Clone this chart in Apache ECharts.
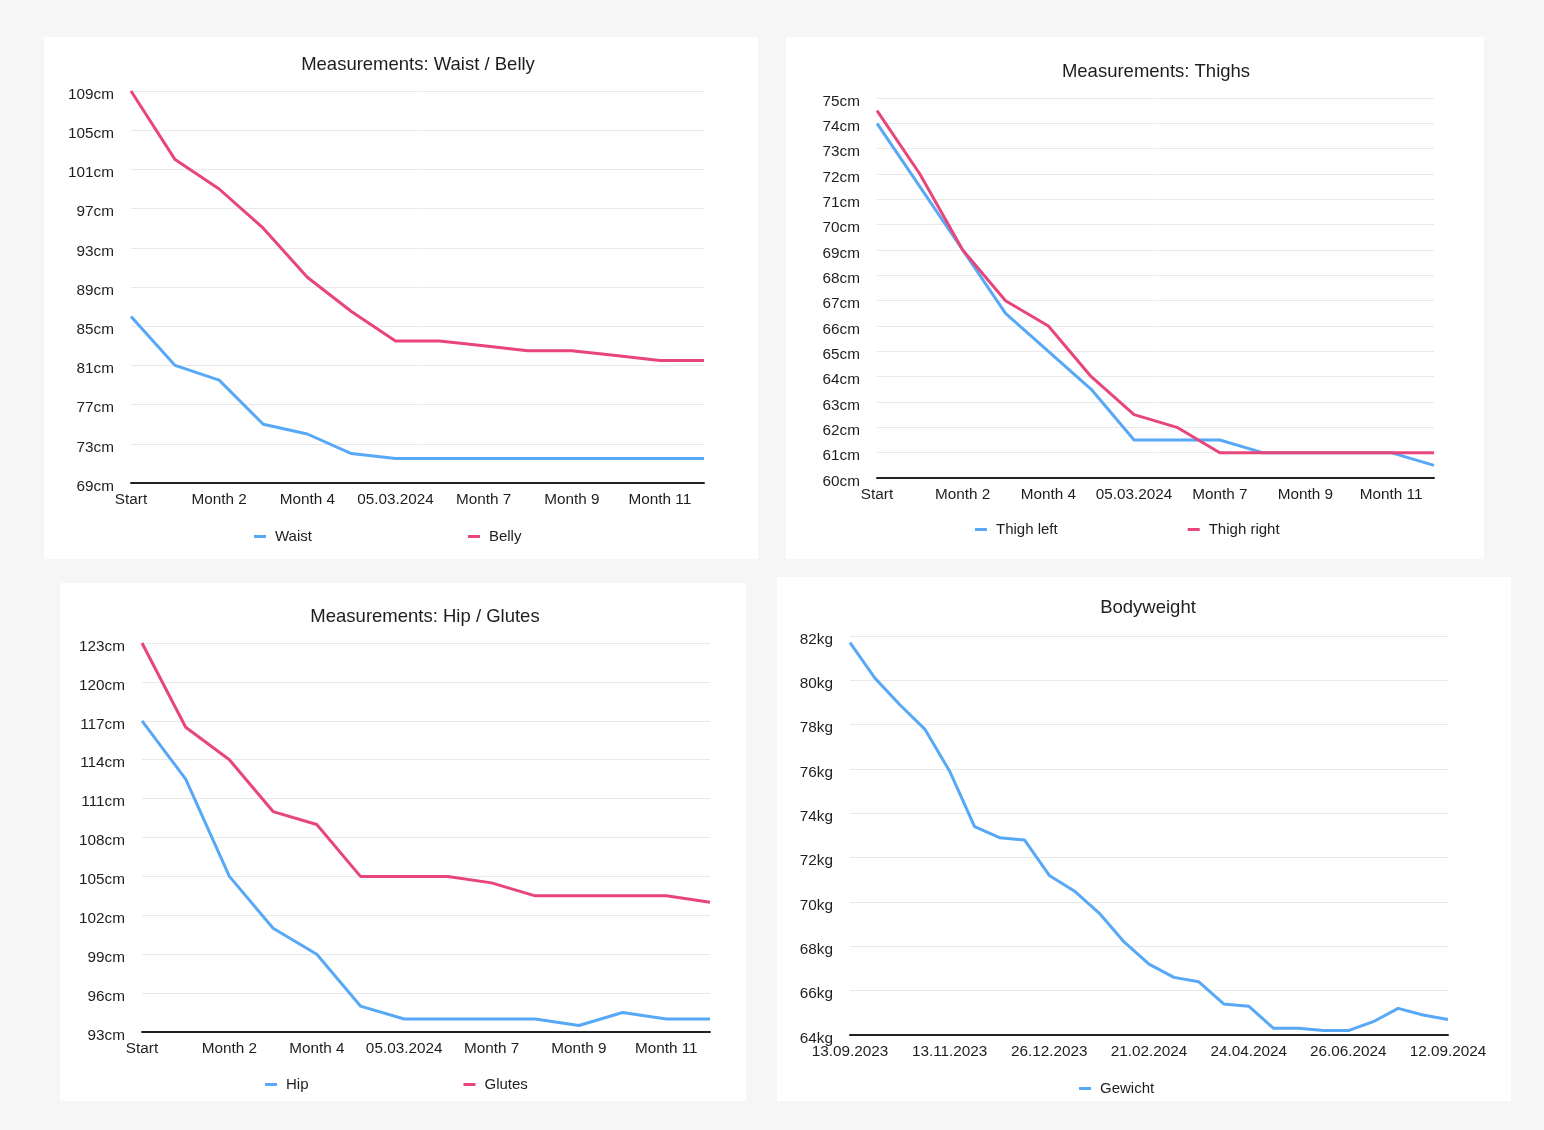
<!DOCTYPE html>
<html>
<head>
<meta charset="utf-8">
<title>Measurements</title>
<script src="https://cdn.jsdelivr.net/npm/echarts@6/dist/echarts.min.js"></script>
<style>
    html, body { margin: 0; padding: 0; background: #f6f6f6; }
    body { width: 1544px; height: 1130px; position: relative; overflow: hidden; }
    .card { position: absolute; background: #ffffff; }
</style>
</head>
<body>
<div id="waist" class="card" style="left:44px;top:37px;width:714px;height:522px"></div>
<div id="thighs" class="card" style="left:786px;top:37px;width:698px;height:522px"></div>
<div id="hip" class="card" style="left:60px;top:583px;width:686px;height:518px"></div>
<div id="weight" class="card" style="left:777px;top:577px;width:734px;height:524px"></div>
<script>
const monthCategories = ["Start", "Month 1", "Month 2", "Month 3", "Month 4", "Month 5", "05.03.2024",
    "Month 6", "Month 7", "Month 8", "Month 9", "Month 10", "Month 11", "Month 12"];

const waist = [86, 81, 79.5, 75, 74, 72, 71.5, 71.5, 71.5, 71.5, 71.5, 71.5, 71.5, 71.5];
const belly = [109, 102, 99, 95, 90, 86.5, 83.5, 83.5, 83, 82.5, 82.5, 82, 81.5, 81.5];

const thighLeft = [74, 71.5, 69, 66.5, 65, 63.5, 61.5, 61.5, 61.5, 61, 61, 61, 61, 60.5];
const thighRight = [74.5, 72, 69, 67, 66, 64, 62.5, 62, 61, 61, 61, 61, 61, 61];

const hip = [117, 112.5, 105, 101, 99, 95, 94, 94, 94, 94, 93.5, 94.5, 94, 94];
const glutes = [123, 116.5, 114, 110, 109, 105, 105, 105, 104.5, 103.5, 103.5, 103.5, 103.5, 103];

const weightDates = ["13.09.2023", "28.09.2023", "13.10.2023", "28.10.2023", "13.11.2023",
    "23.11.2023", "04.12.2023", "15.12.2023", "26.12.2023", "09.01.2024", "23.01.2024",
    "07.02.2024", "21.02.2024", "07.03.2024", "23.03.2024", "08.04.2024", "24.04.2024",
    "09.05.2024", "25.05.2024", "10.06.2024", "26.06.2024", "16.07.2024", "05.08.2024",
    "24.08.2024", "12.09.2024"];
const gewicht = [81.7, 80.1, 78.9, 77.8, 75.9, 73.4, 72.9, 72.8, 71.2, 70.5, 69.5, 68.2, 67.2,
    66.6, 66.4, 65.4, 65.3, 64.3, 64.3, 64.2, 64.2, 64.6, 65.2, 64.9, 64.7];

const BLUE = "#57a8f6";
const PINK = "#e8457b";
const FONT = "'Liberation Sans', Arial, Helvetica, sans-serif";
const TEXT = "#1e1e1e";

function lineSeries(name, data, color) {
    return {
        name,
        type: "line",
        data,
        showSymbol: false,
        symbol: "none",
        lineStyle: { color, width: 3 },
        itemStyle: { color },
        animation: false
    };
}

function buildOption(cfg) {
    return {
        backgroundColor: "#ffffff",
        textStyle: { fontFamily: FONT },
        title: {
            text: cfg.title,
            left: cfg.titleLeft,
            top: cfg.titleTop,
            textAlign: "center",
            textStyle: { color: TEXT, fontSize: 18.5, fontWeight: "normal", fontFamily: FONT }
        },
        legend: {
            left: cfg.legendLeft,
            top: cfg.legendTop,
            itemGap: cfg.legendGap,
            itemWidth: 12,
            itemHeight: 3,
            icon: "rect",
            textStyle: { color: TEXT, fontSize: 15, fontFamily: FONT, padding: [0, 0, 0, 4] },
            data: cfg.series.map(s => s.name)
        },
        grid: cfg.grid,
        xAxis: {
            type: "category",
            data: cfg.categories,
            boundaryGap: false,
            axisTick: { show: false },
            axisLine: { lineStyle: { color: "#222222", width: 2 } },
            axisLabel: {
                interval: cfg.labelInterval,
                color: TEXT,
                fontSize: 15.3,
                fontFamily: FONT,
                margin: 9
            },
            splitLine: { show: false }
        },
        yAxis: {
            type: "value",
            min: cfg.min,
            max: cfg.max,
            interval: cfg.interval,
            axisLine: { show: false },
            axisTick: { show: false },
            axisLabel: {
                color: TEXT,
                fontSize: 15.3,
                fontFamily: FONT,
                margin: 17,
                formatter: v => `{v|${v}${cfg.unit}}`,
                rich: {
                    v: {
                        color: TEXT,
                        fontSize: 15.3,
                        fontFamily: FONT,
                        padding: [7, 0, 0, 0]
                    }
                }
            },
            splitLine: { lineStyle: { color: "#e9e9e9", width: 1 } }
        },
        series: cfg.series
    };
}

function render(id, cfg) {
    const chart = echarts.init(document.getElementById(id), null, { renderer: "canvas" });
    chart.setOption(buildOption(cfg));
}

render("waist", {
    title: "Measurements: Waist / Belly",
    titleLeft: 369, titleTop: 13,
    legendLeft: 205, legendTop: 487, legendGap: 156,
    grid: { left: 87, right: 54, top: 54, bottom: 76 },
    categories: monthCategories,
    labelInterval: 1,
    min: 69, max: 109, interval: 4, unit: "cm",
    series: [lineSeries("Waist", waist, BLUE), lineSeries("Belly", belly, PINK)]
});

render("thighs", {
    title: "Measurements: Thighs",
    titleLeft: 365, titleTop: 20,
    legendLeft: 184, legendTop: 480, legendGap: 130,
    grid: { left: 91, right: 50, top: 61, bottom: 81 },
    categories: monthCategories,
    labelInterval: 1,
    min: 60, max: 75, interval: 1, unit: "cm",
    series: [lineSeries("Thigh left", thighLeft, BLUE), lineSeries("Thigh right", thighRight, PINK)]
});

render("hip", {
    title: "Measurements: Hip / Glutes",
    titleLeft: 360, titleTop: 19,
    legendLeft: 200, legendTop: 489, legendGap: 155,
    grid: { left: 82, right: 36, top: 60, bottom: 69 },
    categories: monthCategories,
    labelInterval: 1,
    min: 93, max: 123, interval: 3, unit: "cm",
    series: [lineSeries("Hip", hip, BLUE), lineSeries("Glutes", glutes, PINK)]
});

render("weight", {
    title: "Bodyweight",
    titleLeft: 366, titleTop: 16,
    legendLeft: 297, legendTop: 499, legendGap: 150,
    grid: { left: 73, right: 63, top: 59, bottom: 66 },
    categories: weightDates,
    labelInterval: 3,
    min: 64, max: 82, interval: 2, unit: "kg",
    series: [lineSeries("Gewicht", gewicht, BLUE)]
});
</script>
</body>
</html>
